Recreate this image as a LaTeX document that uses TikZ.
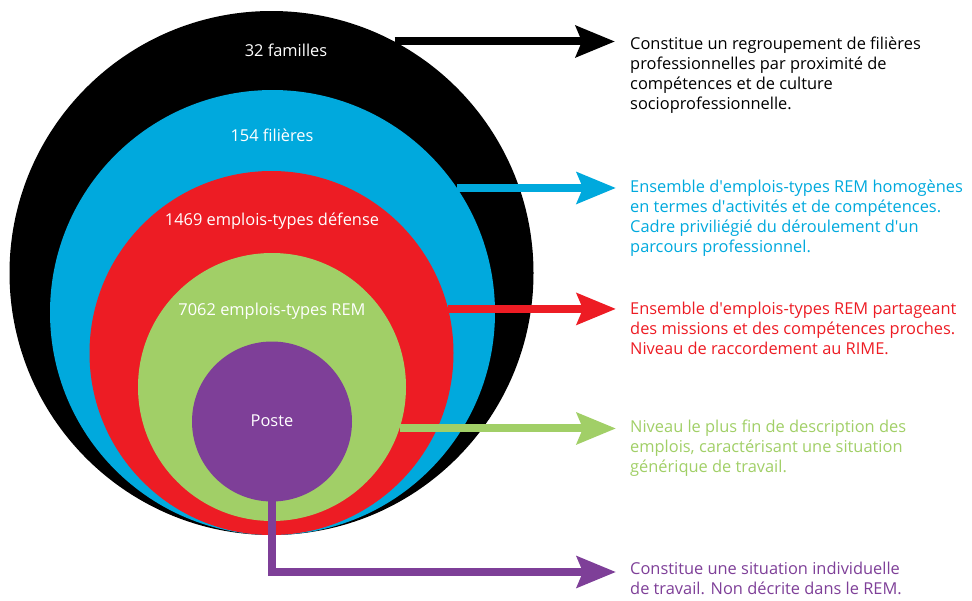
\documentclass[tikz,border=0pt]{standalone}
\usepackage{fontspec}
\setmainfont{Open Sans}
\usetikzlibrary{arrows.meta}
\definecolor{cblack}{RGB}{0,0,0}
\definecolor{cblue}{RGB}{0,169,221}
\definecolor{cred}{RGB}{237,28,36}
\definecolor{cgreen}{RGB}{161,207,103}
\definecolor{cpurple}{RGB}{126,63,152}
\begin{document}
\begin{tikzpicture}[x=1pt,y=-1pt,
  ring/.style={circle,inner sep=0pt,minimum size=#1,fill},
  lab/.style={text=white,font=\fontsize{16.4}{20}\selectfont},
  desc/.style={anchor=west,align=left,inner sep=0pt,font=\fontsize{16.4}{20}\selectfont},
  link/.style={line width=8pt,-{Stealth[length=39pt,width=31pt,inset=6pt]}}]
\useasboundingbox (0,0) rectangle (972,600);
% nested circles, all resting on the same bottom line
\node[ring=524pt,cblack]  (blk) at (271.5,273) {};
\node[ring=445pt,cblue]   (blu) at (272.5,312.5) {};
\node[ring=364pt,cred]    (red) at (271.5,353) {};
\node[ring=268pt,cgreen]  (grn) at (272,387) {};
\node[ring=160pt,cpurple] (pur) at (272,421.5) {};
% circle labels
\node[lab] (lblk) at (286,50) {32 familles};
\node[lab] (lblu) at (272,135) {154 filières};
\node[lab] (lred) at (272,221) {1469 emplois-types défense};
\node[lab] (lgrn) at (272,311) {7062 emplois-types REM};
\node[lab] (lpur) at (272,421) {Poste};
% descriptions (vertical centre of each block)
\node[desc,text=cblack] (dblk) at (630,75) {Constitue un regroupement de filières\\professionnelles par proximité de\\compétences et de culture\\socioprofessionnelle.};
\node[desc,text=cblue] (dblu) at (630,218) {Ensemble d\textquotesingle emplois-types REM homogènes\\en termes d\textquotesingle activités et de compétences.\\Cadre priviliégié du déroulement d\textquotesingle un\\parcours professionnel.};
\node[desc,text=cred] (dred) at (630,328) {Ensemble d\textquotesingle emplois-types REM partageant\\des missions et des compétences proches.\\Niveau de raccordement au RIME.};
\node[desc,text=cgreen] (dgrn) at (630,448) {Niveau le plus fin de description des\\emplois, caractérisant une situation\\générique de travail.};
\node[desc,text=cpurple] (dpur) at (630,578.5) {Constitue une situation individuelle\\de travail. Non décrite dans le REM.};
% arrow tips
\coordinate (tblk) at (615,44.5);
\coordinate (tblu) at (616,189);
\coordinate (tred) at (616,309);
\coordinate (tgrn) at (616,429);
\coordinate (tpur) at (616,572);
% connectors
\draw[link,cblack]  (blk.62)  -- (blk.62 -| tblk);
\draw[link,cblue]   (blu.34)  -- (blu.34 -| tblu);
\draw[link,cred]    (red.14)  -- (red.14 -| tred);
\draw[link,cgreen]  (grn.-18) -- (grn.-18 -| tgrn);
\draw[link,cpurple] ([yshift=1pt]pur.south) |- (tpur);
\end{tikzpicture}
\end{document}
